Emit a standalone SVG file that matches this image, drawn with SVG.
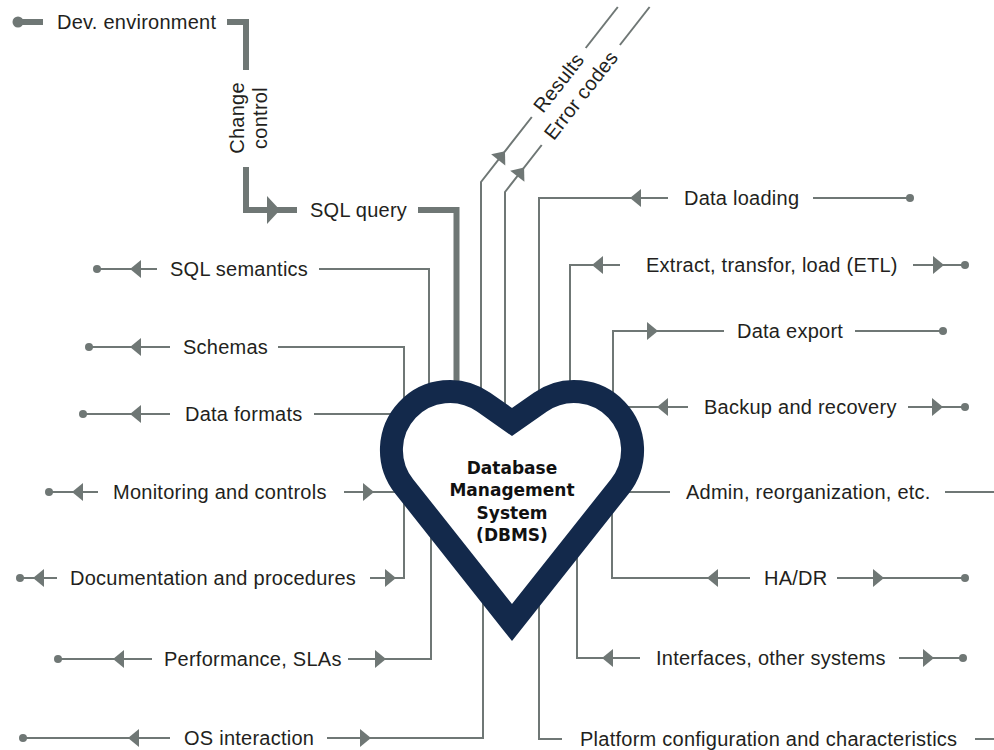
<svg xmlns="http://www.w3.org/2000/svg" xmlns:xlink="http://www.w3.org/1999/xlink" width="994" height="750" viewBox="0 0 994 750">
<style>
.ln{stroke:#6f7775;stroke-width:2;fill:none}
.thk{stroke:#6f7775;stroke-width:6;fill:none}
.ah{fill:#6f7775}
.t{font-family:"Liberation Sans",Arial,sans-serif;font-size:20px;fill:#231f20;letter-spacing:0.25px}
.hb{font-family:"DejaVu Sans",Verdana,sans-serif;font-weight:bold;font-size:17px;fill:#111;text-anchor:middle}
</style>
<defs>
<polygon id="al" class="ah" points="0,0 11,-9 11,9"/>
<polygon id="ar" class="ah" points="11,0 0,-9 0,9"/>
<polygon id="tar" class="ah" points="13,0 0,-14 0,14"/>
<circle id="dot" class="ah" r="4"/>
</defs>
<rect width="994" height="750" fill="#ffffff"/>
<g id="connectors">
<line class="thk" x1="19" y1="22" x2="43" y2="22" stroke-width="5"/>
<circle cx="18" cy="22" r="5.5" class="ah"/>
<polyline class="thk" points="227,22 246,22 246,70"/>
<polyline class="thk" points="246,167 246,210 297,210"/>
<use xlink:href="#tar" transform="translate(267,210)"/>
<polyline class="thk" points="418,210 456.5,210 456.5,395"/>
<polyline class="ln" points="481,400 481,182 531.8,117"/>
<line class="ln" x1="585.7" y1="48" x2="617.8" y2="7"/>
<use xlink:href="#ar" transform="translate(498.2,159.9) rotate(-52)"/>
<polyline class="ln" points="505,415 505,192 541.7,145"/>
<line class="ln" x1="619.9" y1="45" x2="649.6" y2="7"/>
<use xlink:href="#ar" transform="translate(517.3,176.2) rotate(-52)"/>
<line class="ln" x1="97" y1="269" x2="157" y2="269"/><use xlink:href="#dot" x="97" y="269"/><use xlink:href="#al" transform="translate(130,269)"/>
<polyline class="ln" points="319,269 429,269 429,395"/>
<line class="ln" x1="89" y1="347" x2="170" y2="347"/><use xlink:href="#dot" x="89" y="347"/><use xlink:href="#al" transform="translate(130,347)"/>
<polyline class="ln" points="278,347 404,347 404,410"/>
<line class="ln" x1="83" y1="414" x2="170" y2="414"/><use xlink:href="#dot" x="83" y="414"/><use xlink:href="#al" transform="translate(130,414)"/>
<line class="ln" x1="314" y1="414" x2="420" y2="414"/>
<line class="ln" x1="49" y1="492" x2="98" y2="492"/><use xlink:href="#dot" x="49" y="492"/><use xlink:href="#al" transform="translate(72,492)"/>
<line class="ln" x1="344" y1="492" x2="410" y2="492"/><use xlink:href="#ar" transform="translate(363,492)"/>
<line class="ln" x1="20" y1="578" x2="57" y2="578"/><use xlink:href="#dot" x="20" y="578"/><use xlink:href="#al" transform="translate(33,578)"/>
<polyline class="ln" points="370,578 404,578 404,495"/><use xlink:href="#ar" transform="translate(385,578)"/>
<line class="ln" x1="58" y1="659" x2="152" y2="659"/><use xlink:href="#dot" x="58" y="659"/><use xlink:href="#al" transform="translate(113,659)"/>
<polyline class="ln" points="348,659 431,659 431,525"/><use xlink:href="#ar" transform="translate(375,659)"/>
<line class="ln" x1="23" y1="738" x2="170" y2="738"/><use xlink:href="#dot" x="23" y="738"/><use xlink:href="#al" transform="translate(128,738)"/>
<polyline class="ln" points="327,738 483,738 483,590"/><use xlink:href="#ar" transform="translate(360,738)"/>
<polyline class="ln" points="539,400 539,198 668,198"/><use xlink:href="#al" transform="translate(630,198)"/>
<line class="ln" x1="813" y1="198" x2="910" y2="198"/><use xlink:href="#dot" x="910" y="198"/>
<polyline class="ln" points="570,395 570,265 620,265"/><use xlink:href="#al" transform="translate(592,265)"/>
<line class="ln" x1="913" y1="265" x2="965" y2="265"/><use xlink:href="#ar" transform="translate(933,265)"/><use xlink:href="#dot" x="965" y="265"/>
<polyline class="ln" points="613,405 613,331 724,331"/><use xlink:href="#ar" transform="translate(647,331)"/>
<line class="ln" x1="855" y1="331" x2="943" y2="331"/><use xlink:href="#dot" x="943" y="331"/>
<line class="ln" x1="620" y1="407" x2="688" y2="407"/><use xlink:href="#al" transform="translate(657,407)"/>
<line class="ln" x1="908" y1="407" x2="965" y2="407"/><use xlink:href="#ar" transform="translate(932,407)"/><use xlink:href="#dot" x="965" y="407"/>
<line class="ln" x1="615" y1="492" x2="670" y2="492"/>
<line class="ln" x1="945" y1="492" x2="994" y2="492"/>
<polyline class="ln" points="612,500 612,578 750,578"/><use xlink:href="#al" transform="translate(707,578)"/>
<line class="ln" x1="837" y1="578" x2="965" y2="578"/><use xlink:href="#ar" transform="translate(873,578)"/><use xlink:href="#dot" x="965" y="578"/>
<polyline class="ln" points="577,545 577,658 640,658"/><use xlink:href="#al" transform="translate(602,658)"/>
<line class="ln" x1="899" y1="658" x2="963" y2="658"/><use xlink:href="#ar" transform="translate(923,658)"/><use xlink:href="#dot" x="963" y="658"/>
<polyline class="ln" points="539,595 539,739 562,739"/>
<line class="ln" x1="975" y1="739" x2="994" y2="739"/>
</g>
<g id="dbms">
<path d="M512,622.5 L404.1,486.3 A58.5,58.5 0 0 1 483.6,402.1 L512,422 L540.4,402.1 A58.5,58.5 0 0 1 619.9,486.3 Z" fill="#ffffff" stroke="#13294b" stroke-width="23" stroke-linejoin="miter" stroke-miterlimit="10"/>
<text class="hb" x="512" y="474">Database</text>
<text class="hb" x="512" y="496">Management</text>
<text class="hb" x="512" y="518.5">System</text>
<text class="hb" x="512" y="540.5">(DBMS)</text>
</g>
<g id="dev-environment"><text class="t" x="57" y="29">Dev. environment</text></g>
<g id="change-control">
<text class="t" text-anchor="middle" transform="translate(244,118) rotate(-90)">Change</text>
<text class="t" text-anchor="middle" transform="translate(267,118) rotate(-90)">control</text>
</g>
<g id="sql-query"><text class="t" x="310" y="217">SQL query</text></g>
<g id="results"><text class="t" text-anchor="middle" transform="translate(558.6,82.7) rotate(-52)" dy="7">Results</text></g>
<g id="error-codes"><text class="t" text-anchor="middle" transform="translate(580.8,95.1) rotate(-52)" dy="7">Error codes</text></g>
<g id="sql-semantics"><text class="t" x="170" y="276">SQL semantics</text></g>
<g id="schemas"><text class="t" x="183" y="354">Schemas</text></g>
<g id="data-formats"><text class="t" x="185" y="421">Data formats</text></g>
<g id="monitoring"><text class="t" x="113" y="499">Monitoring and controls</text></g>
<g id="documentation"><text class="t" x="70" y="585">Documentation and procedures</text></g>
<g id="performance"><text class="t" x="164" y="666">Performance, SLAs</text></g>
<g id="os-interaction"><text class="t" x="184" y="745">OS interaction</text></g>
<g id="data-loading"><text class="t" x="684" y="205">Data loading</text></g>
<g id="etl"><text class="t" x="646" y="272">Extract, transfor, load (ETL)</text></g>
<g id="data-export"><text class="t" x="737" y="338">Data export</text></g>
<g id="backup"><text class="t" x="704" y="414">Backup and recovery</text></g>
<g id="admin"><text class="t" x="686" y="499">Admin, reorganization, etc.</text></g>
<g id="ha-dr"><text class="t" x="764" y="585">HA/DR</text></g>
<g id="interfaces"><text class="t" x="656" y="665">Interfaces, other systems</text></g>
<g id="platform"><text class="t" x="580" y="746">Platform configuration and characteristics</text></g>
</svg>
